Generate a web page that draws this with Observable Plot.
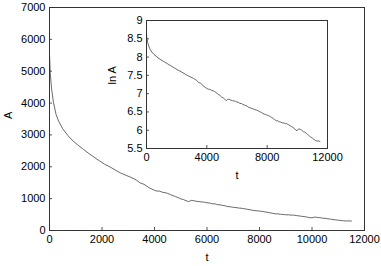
<!DOCTYPE html>
<html><head><meta charset="utf-8">
<script src="https://cdn.jsdelivr.net/npm/d3@7"></script>
<script src="https://cdn.jsdelivr.net/npm/@observablehq/plot@0.6"></script>
<style>
html,body{margin:0;padding:0;background:#fff;}
#wrap{position:relative;width:381px;height:266px;}
#wrap svg{position:absolute;left:0;top:0;}
</style></head><body>
<div id="wrap"></div>
<script>
const tValues = [0,30,80,150,250,350,500,700,900,1100,1300,1500,1700,1900,2100,2300,2500,2700,2900,3100,3300,3450,3600,3800,
4000,4100,4200,4300,4400,4500,4600,4700,4800,4900,5000,5100,5200,5300,5400,5500,5600,5700,5800,5900,6000,6100,6200,6300,6400,6500,6600,6700,6800,6900,7000,7100,7200,7300,7400,7500,7600,7700,7800,7900,8000,8100,8200,8300,8400,8500,8600,8700,8800,8900,9000,9100,9200,9300,9400,9500,9600,9700,9800,9900,10000,10100,10200,10300,10400,10500,10600,10700,10800,10900,11000,11100,11200,11300,11400,11500];
const lnAValues = [8.62,8.50,8.40,8.30,8.20,8.14,8.07,8.00,7.94,7.89,7.84,7.79,7.74,7.69,7.64,7.60,7.55,7.50,7.46,7.42,7.37,7.31,7.28,7.20,
7.14,7.12,7.12,7.09,7.08,7.06,7.03,7.00,6.97,6.94,6.90,6.88,6.84,6.81,6.85,6.84,6.82,6.81,6.80,6.79,6.77,6.76,6.73,6.73,6.70,6.69,6.67,6.65,6.62,6.61,6.59,6.58,6.56,6.55,6.53,6.51,6.49,6.46,6.44,6.43,6.41,6.40,6.37,6.35,6.32,6.29,6.26,6.26,6.23,6.22,6.20,6.20,6.18,6.18,6.15,6.13,6.10,6.08,6.05,6.00,5.99,6.04,6.02,6.00,5.96,5.95,5.91,5.88,5.84,5.81,5.78,5.75,5.72,5.70,5.71,5.69];
const mainXTicks = [0,2000,4000,6000,8000,10000,12000];
const mainYTicks = [0,1000,2000,3000,4000,5000,6000,7000];
const insetXTicks = [0,4000,8000,12000];
const insetYTicks = [5.5,6,6.5,7,7.5,8,8.5,9];

const data = tValues.map((t,i)=>({t, lnA: lnAValues[i]}));
const font = {fontFamily:"'Liberation Sans', Arial, sans-serif", fontSize:"11px", background:"transparent", color:"#000", overflow:"visible"};
const fmt = d3.format("d");

const main = Plot.plot({
  width:381, height:266, marginLeft:49, marginRight:17, marginTop:7, marginBottom:36,
  style: font,
  x:{domain:[0,12000]}, y:{domain:[0,7000]},
  marks:[
    Plot.axisX({ticks: mainXTicks, tickSize:-3, tickPadding:8, tickFormat: fmt, stroke:"#555", label:null}),
    Plot.axisY({ticks: mainYTicks, tickSize:-3, tickPadding:7, tickFormat: fmt, stroke:"#555", label:null}),
    Plot.text(["t"], {frameAnchor:"bottom", dy:30, fontSize:11}),
    Plot.text(["A"], {frameAnchor:"left", dx:-41, rotate:-90, fontSize:11}),
    Plot.lineY(data, {x:"t", y: d=>Math.exp(d.lnA), stroke:"#444", strokeWidth:0.8}),
    Plot.frame({stroke:"#333"})
  ]
});

const inset = Plot.plot({
  width:240, height:180, marginLeft:46, marginRight:13, marginTop:8, marginBottom:44,
  style: font,
  x:{domain:[0,12000]}, y:{domain:[5.5,9]},
  marks:[
    Plot.axisX({ticks: insetXTicks, tickSize:-3, tickPadding:8, tickFormat: fmt, stroke:"#555", label:null}),
    Plot.axisY({ticks: insetYTicks, tickSize:-3, tickPadding:7, tickFormat: d=>String(d), stroke:"#555", label:null}),
    Plot.text(["t"], {frameAnchor:"bottom", dy:30, fontSize:11}),
    Plot.text(["ln A"], {frameAnchor:"left", dx:-34, rotate:-90, fontSize:11}),
    Plot.lineY(data, {x:"t", y:"lnA", stroke:"#444", strokeWidth:0.8}),
    Plot.frame({stroke:"#333"})
  ]
});
inset.style.left = "100px";
inset.style.top = "12px";
const wrap = document.getElementById("wrap");
wrap.appendChild(main);
wrap.appendChild(inset);
</script></body></html>
